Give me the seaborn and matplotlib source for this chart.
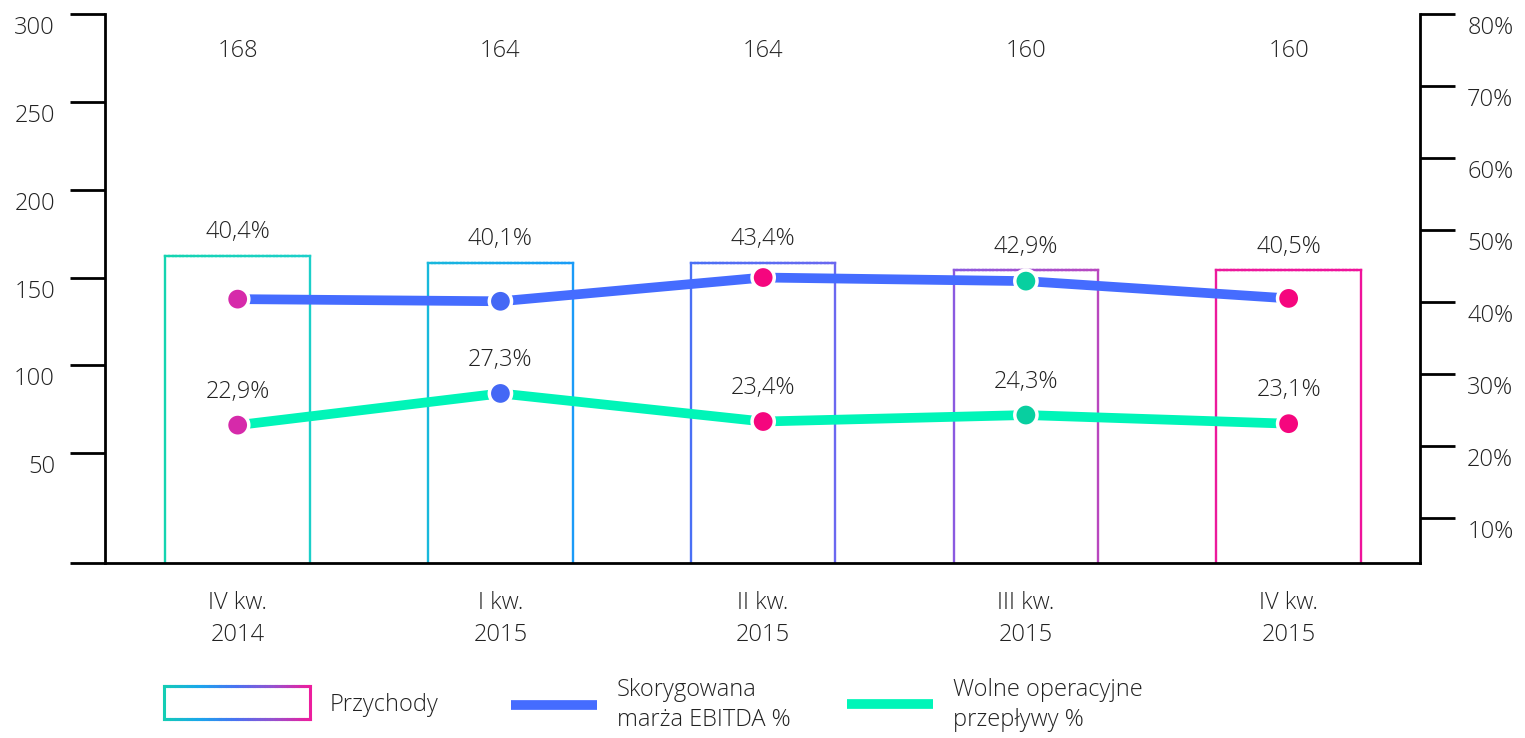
import matplotlib
matplotlib.use("Agg")
import numpy as np
import pandas as pd
import seaborn as sns
import matplotlib.pyplot as plt
from matplotlib import transforms as mtransforms
from matplotlib.collections import LineCollection
from matplotlib.colors import LinearSegmentedColormap
from matplotlib.lines import Line2D

# ---------------- data ----------------
categories = ["IV kw.\n2014", "I kw.\n2015", "II kw.\n2015", "III kw.\n2015", "IV kw.\n2015"]
revenue = [168, 164, 164, 160, 160]
ebitda_margin = [40.4, 40.1, 43.4, 42.9, 40.5]
fcf_margin = [22.9, 27.3, 23.4, 24.3, 23.1]
left_ticks = [50, 100, 150, 200, 250, 300]
right_ticks = [10, 20, 30, 40, 50, 60, 70, 80]
legend_labels = ["Przychody", "Skorygowana\nmarża EBITDA %", "Wolne operacyjne\nprzepływy %"]

# ---------------- style ----------------
sns.set_theme(style="white")
plt.rcParams["font.family"] = ["Open Sans", "DejaVu Sans"]
plt.rcParams["font.weight"] = "light"
TXT = "#222222"
FS = 17
BLUE = "#456cff"
GREEN = "#00f5b8"

W, H = 1525, 738
AX_L, AX_R = 105, 1420
def gp(px):
    return (px - AX_L) / (AX_R - AX_L)
grad = LinearSegmentedColormap.from_list("g", [
    (0.0, "#12d6ae"), (gp(165), "#14d4b0"), (gp(309), "#1ccfca"),
    (gp(428), "#18b8dc"), (gp(572), "#1a9cf8"), (gp(691), "#4a70f5"),
    (gp(835), "#6a68f0"), (gp(954), "#8a5ae0"), (gp(1098), "#b848c0"),
    (gp(1217), "#ec1a9c"), (1.0, "#f0109a")])
legend_grad = LinearSegmentedColormap.from_list(
    "lg", ["#14cdb4", "#1aa6ec", "#4a72f2", "#9452d0", "#ec1e9e"])
marker_colors = ["#d62aaa", "#4468f5", "#f5067e", "#08cfa0", "#f5067e"]

fig = plt.figure(figsize=(W / 100, H / 100), dpi=100)
rect = [AX_L / W, 1 - 563 / H, (AX_R - AX_L) / W, 549 / H]
axb = fig.add_axes(rect)            # bars
ax = fig.add_axes(rect, sharex=axb)  # left value axis (ticks)
ax.patch.set_alpha(0)
ax2 = ax.twinx()                     # right percentage axis (lines)

x = np.arange(len(categories))
df = pd.DataFrame({"x": x, "cat": categories, "rev": revenue,
                   "ebitda": ebitda_margin, "fcf": fcf_margin})

# ---------------- bars (outlined, gradient edge) ----------------
axb.set_xlim(-0.505, 4.5)
axb.set_ylim(0, 300)
ax.set_ylim(-12.5, 300)
bw = 0.55
x0a, x1a = axb.get_xlim()
def gx(v):
    return grad((v - x0a) / (x1a - x0a))
for xi, v in zip(x, revenue):
    axb.bar(xi, v, width=bw, fill=False, linewidth=0)
    x0, x1 = xi - bw / 2, xi + bw / 2
    xs = np.linspace(x0, x1, 41)
    segs, cols = [], []
    for a, b in zip(xs[:-1], xs[1:]):
        segs.append([(a, v), (b, v)]); cols.append(gx((a + b) / 2))
    segs.append([(x0, 0), (x0, v)]); cols.append(gx(x0))
    segs.append([(x1, 0), (x1, v)]); cols.append(gx(x1))
    axb.add_collection(LineCollection(segs, colors=cols, linewidths=1.7,
                                      capstyle="projecting"))
axb.axis("off")

# value labels on top
bt = mtransforms.blended_transform_factory(axb.transData, axb.transAxes)
for xi, v in zip(x, revenue):
    axb.text(xi, 0.932, f"{v}", transform=bt, ha="center", va="center",
             fontsize=FS, color=TXT)

# ---------------- lines ----------------
ax2.set_ylim(3.75, 80)
sns.lineplot(data=df, x="x", y="ebitda", ax=ax2, color=BLUE, linewidth=7,
             legend=False, zorder=3)
sns.lineplot(data=df, x="x", y="fcf", ax=ax2, color=GREEN, linewidth=7,
             legend=False, zorder=3)
for col in ["ebitda", "fcf"]:
    ax2.scatter(df["x"], df[col], s=16 ** 2, c=marker_colors, edgecolors="white",
                linewidths=2.5, zorder=5)

fmt = lambda v: f"{v:.1f}".replace(".", ",") + "%"
for xi, v, r in zip(x, ebitda_margin, revenue):
    axb.annotate(fmt(v), (xi, r), xytext=(0, 17), textcoords="offset points",
                 ha="center", va="center", fontsize=FS, color=TXT, zorder=6)
for xi, v in zip(x, fcf_margin):
    ax2.annotate(fmt(v), (xi, v), xytext=(0, 24), textcoords="offset points",
                 ha="center", va="center", fontsize=FS, color=TXT, zorder=6)

# ---------------- axes ----------------
ax.set_xticks(x)
ax.set_xticklabels(categories, fontsize=FS, color=TXT, linespacing=1.45)
ax.tick_params(axis="x", length=0, pad=20)
ax.set_yticks([-12.5] + left_ticks)
ax.set_yticklabels([""] + [str(t) for t in left_ticks], fontsize=FS, color=TXT)
ax.tick_params(axis="y", length=25, width=2, color="black", pad=11, direction="out")
ax2.set_yticks(right_ticks)
ax2.set_yticklabels([f"{t}%" for t in right_ticks], fontsize=FS, color=TXT)
ax2.tick_params(axis="y", length=25, width=2, color="black", pad=9, direction="out")
for a in (ax, ax2):
    a.set_xlabel(""); a.set_ylabel("")

off = mtransforms.ScaledTranslation(0, -11 / 100, fig.dpi_scale_trans)
for lab in ax.get_yticklabels() + ax2.get_yticklabels():
    lab.set_transform(lab.get_transform() + off)

for a in (ax, ax2):
    for s in a.spines.values():
        s.set_visible(False)
    a.grid(False)
ax.spines["left"].set_visible(True)
ax.spines["bottom"].set_visible(True)
ax2.spines["right"].set_visible(True)
for s in (ax.spines["left"], ax.spines["bottom"], ax2.spines["right"]):
    s.set_color("black"); s.set_linewidth(2)

# ---------------- legend (figure coords) ----------------
def P(px, py):
    return (px / W, 1 - py / H)

lx0, lx1, ly0, ly1 = 164, 310, 686, 719
xs = np.linspace(lx0, lx1, 61)
segs, cols = [], []
for a, b in zip(xs[:-1], xs[1:]):
    c = legend_grad(((a + b) / 2 - lx0) / (lx1 - lx0))
    segs += [[P(a, ly0), P(b, ly0)], [P(a, ly1), P(b, ly1)]]
    cols += [c, c]
segs += [[P(lx0, ly0), P(lx0, ly1)], [P(lx1, ly0), P(lx1, ly1)]]
cols += [legend_grad(0.0), legend_grad(1.0)]
fig.add_artist(LineCollection(segs, colors=cols, linewidths=2.2,
                              transform=fig.transFigure, capstyle="projecting"))
fig.text(*P(330, 705), legend_labels[0], ha="left", va="center", fontsize=FS, color=TXT)

fig.add_artist(Line2D([511 / W, 597 / W], [1 - 705 / H] * 2, transform=fig.transFigure,
                      color=BLUE, linewidth=7, solid_capstyle="butt"))
fig.text(*P(617, 705), legend_labels[1], ha="left", va="center", fontsize=FS,
         color=TXT, linespacing=1.35)
fig.add_artist(Line2D([847 / W, 933 / W], [1 - 704 / H] * 2, transform=fig.transFigure,
                      color=GREEN, linewidth=7, solid_capstyle="butt"))
fig.text(*P(953, 705), legend_labels[2], ha="left", va="center", fontsize=FS,
         color=TXT, linespacing=1.35)

fig.savefig("out.png", dpi=100, facecolor="white")
